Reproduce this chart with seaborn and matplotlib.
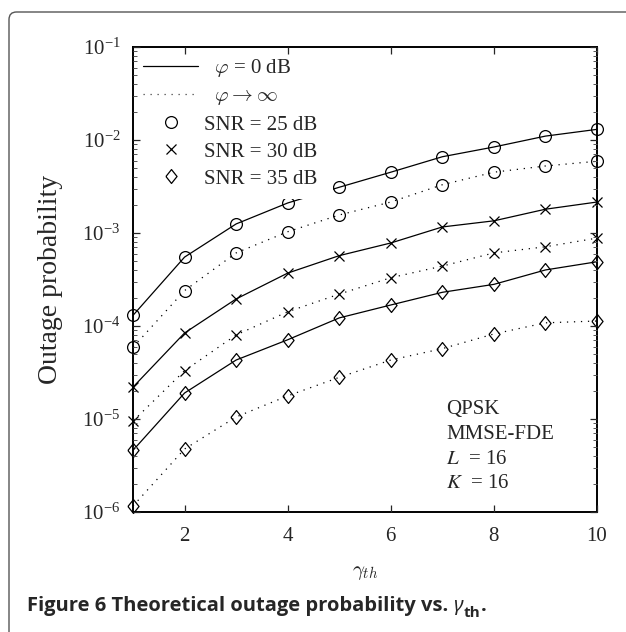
import numpy as np
import pandas as pd
import matplotlib
matplotlib.use("Agg")
import matplotlib.pyplot as plt
import seaborn as sns
from matplotlib.lines import Line2D
from matplotlib.patches import FancyBboxPatch
from matplotlib.ticker import LogLocator, NullFormatter

# values
gamma_th = [1, 2, 3, 4, 5, 6, 7, 8, 9, 10]
p25_phi0 = [1.3e-4, 5.5e-4, 1.25e-3, 2.1e-3, 3.1e-3, 4.5e-3, 6.6e-3, 8.4e-3, 1.1e-2, 1.3e-2]
p25_inf = [5.9e-5, 2.4e-4, 6.1e-4, 1.03e-3, 1.56e-3, 2.15e-3, 3.3e-3, 4.5e-3, 5.25e-3, 5.9e-3]
p30_phi0 = [2.2e-5, 8.4e-5, 1.95e-4, 3.7e-4, 5.7e-4, 7.8e-4, 1.16e-3, 1.35e-3, 1.8e-3, 2.15e-3]
p30_inf = [9.5e-6, 3.3e-5, 8.0e-5, 1.42e-4, 2.2e-4, 3.3e-4, 4.4e-4, 6.1e-4, 7.1e-4, 8.8e-4]
p35_phi0 = [4.6e-6, 1.9e-5, 4.3e-5, 7.1e-5, 1.22e-4, 1.68e-4, 2.3e-4, 2.8e-4, 4.0e-4, 4.9e-4]
p35_inf = [1.16e-6, 4.75e-6, 1.05e-5, 1.77e-5, 2.8e-5, 4.3e-5, 5.7e-5, 8.2e-5, 1.08e-4, 1.13e-4]

x_ticks = [2, 4, 6, 8, 10]
legend_labels = [r"  $\varphi$ = 0 dB", r"  $\varphi \rightarrow \infty$",
                 "SNR = 25 dB ", "SNR = 30 dB ", "SNR = 35 dB "]
info_lines = ["QPSK", "MMSE-FDE", r"$L$  = 16", r"$K$  = 16"]

sns.set_style("ticks")
plt.rcParams["font.family"] = ["Liberation Serif", "DejaVu Serif"]
plt.rcParams["mathtext.fontset"] = "cm"

diamond = [(-0.8, 0), (0, 1), (0.8, 0), (0, -1), (-0.8, 0)]
dotted = (0, (1, 4.6))

series = [
    (p25_phi0, "-", "o", 8.5),
    (p25_inf, dotted, "o", 8.5),
    (p30_phi0, "-", "x", 6.5),
    (p30_inf, dotted, "x", 6.5),
    (p35_phi0, "-", diamond, 10),
    (p35_inf, dotted, diamond, 10),
]

fig = plt.figure(figsize=(6.26, 6.32), dpi=100)
ax = fig.add_axes([0.2125, 0.19, 0.7412, 0.7357])

for vals, ls, mk, ms in series:
    df = pd.DataFrame({"g": gamma_th, "p": vals})
    sns.lineplot(data=df, x="g", y="p", ax=ax, color="k",
                 linewidth=0.9, linestyle=ls, marker=mk, markersize=ms,
                 mfc="none", mec="k", mew=0.9, clip_on=False)

ax.set_yscale("log")
ax.set_xlim(1, 10)
ax.set_ylim(1e-6, 1e-1)
ax.set_xticks(x_ticks)
ax.set_xticklabels([str(t) for t in x_ticks])
ax.yaxis.set_minor_locator(LogLocator(base=10, subs=np.arange(2, 10), numticks=20))
ax.yaxis.set_minor_formatter(NullFormatter())
ax.tick_params(axis="both", which="both", direction="in", top=True, right=True,
               labelsize=15, pad=9)
ax.tick_params(axis="x", which="major", pad=11)
ax.tick_params(axis="both", which="major", length=5, width=0.9)
ax.tick_params(axis="y", which="minor", length=3, width=0.7, color="#555555")
for sp in ax.spines.values():
    sp.set_linewidth(1.4)
    sp.set_color("k")
    sp.set_zorder(6)
ax.xaxis.set_zorder(6)
ax.yaxis.set_zorder(6)

ax.set_ylabel("Outage probability", fontsize=20, labelpad=14)
ax.set_xlabel(r"$\gamma_{th}$", fontsize=15, labelpad=12)

handles = [
    Line2D([], [], color="k", lw=0.9),
    Line2D([], [], color="#444444", lw=0.9, linestyle=dotted),
    Line2D([], [], color="k", lw=0, marker="o", ms=8.5, mfc="none", mew=0.9),
    Line2D([], [], color="k", lw=0, marker="x", ms=6.5, mew=0.9),
    Line2D([], [], color="k", lw=0, marker=diamond, ms=10, mfc="none", mew=0.9),
]
leg = ax.legend(handles, legend_labels, loc="upper left", fontsize=15,
                frameon=True, framealpha=1, facecolor="white", edgecolor="none",
                handlelength=2.6, handletextpad=0.3, labelspacing=0.36,
                borderaxespad=0.0, borderpad=0.5, fancybox=False)
leg.set_zorder(5)

ax.text(0.675, 0.24, "\n".join(info_lines), transform=ax.transAxes,
        fontsize=15, va="top", ha="left", linespacing=1.4,
        math_fontfamily="stix")

# rounded panel border (only top and left edges fall inside the image)
fig.patches.append(FancyBboxPatch((9 / 626, -0.2), 1.2, 1 - 12 / 632 + 0.2,
                                  boxstyle="round,pad=0,rounding_size=0.012",
                                  transform=fig.transFigure, fill=False,
                                  edgecolor="#555555", lw=1.0))

cap = fig.text(27 / 626, 1 - 606 / 632, "Figure 6 Theoretical outage probability vs. ",
               fontsize=14.5, fontweight="bold", family="Open Sans", va="center", ha="left")
g = ax.annotate("\u03b3", xy=(1, 0), xycoords=cap, va="bottom", ha="left",
                fontsize=14.5, fontweight="bold", style="italic", family="Noto Sans",
                annotation_clip=False)
sub = ax.annotate("th", xy=(1, 0), xycoords=g, xytext=(0.5, -3),
                  textcoords="offset points", va="bottom", ha="left",
                  fontsize=11, fontweight="bold", family="Open Sans",
                  annotation_clip=False)
ax.annotate(".", xy=(1, 0), xycoords=sub, xytext=(0, 3), textcoords="offset points",
            va="bottom", ha="left", fontsize=14.5, fontweight="bold", family="Open Sans",
            annotation_clip=False)

fig.savefig("out.png", dpi=100)
